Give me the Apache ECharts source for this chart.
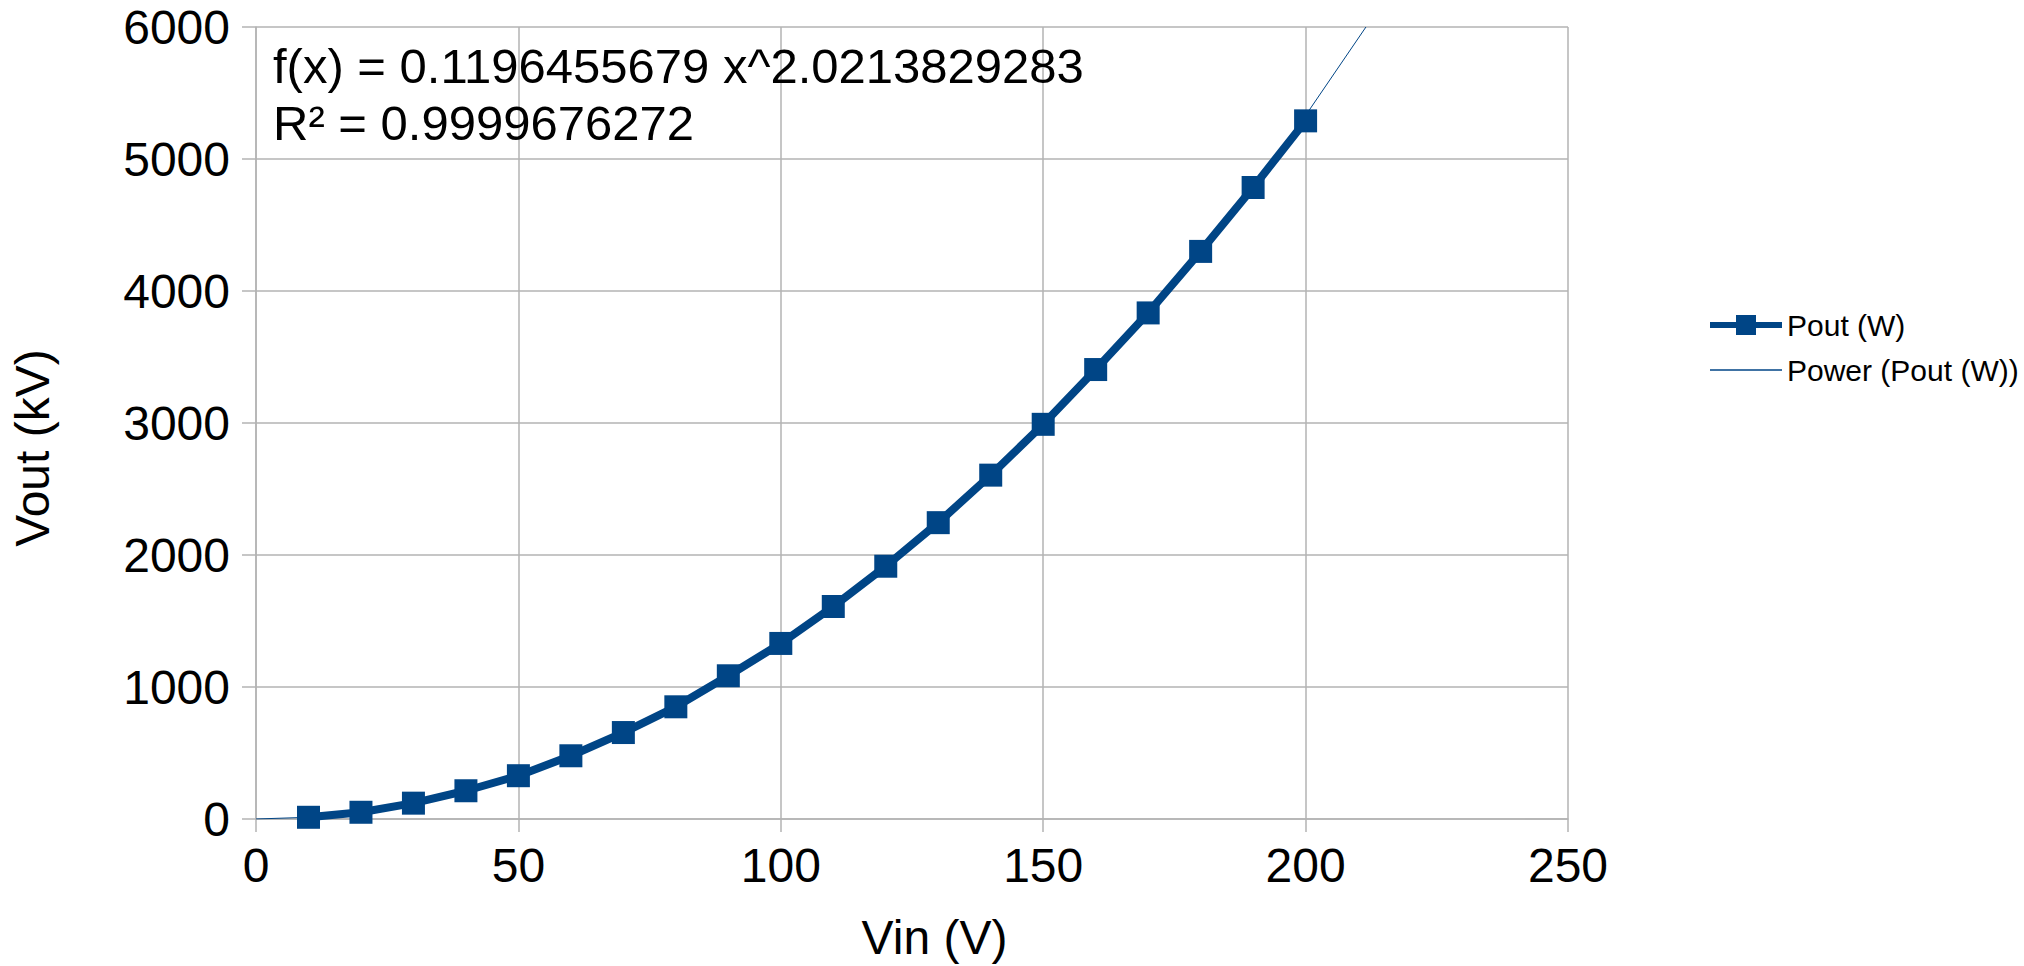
<!DOCTYPE html>
<html>
<head>
<meta charset="utf-8">
<script src="https://cdn.jsdelivr.net/npm/echarts@6/dist/echarts.min.js"></script>
<style>
  html, body { margin: 0; padding: 0; background: #ffffff; }
  #chart { width: 2024px; height: 966px; }
</style>
</head>
<body>
<div id="chart"></div>
<script>
// ---- data ----
const vin = [10, 20, 30, 40, 50, 60, 70, 80, 90, 100, 110, 120, 130, 140, 150, 160, 170, 180, 190, 200];
const pout = [13, 51, 120, 214, 328, 479, 655, 850, 1085, 1330, 1610, 1915, 2245, 2605, 2990, 3405, 3834, 4300, 4784, 5289];

// power trend line as drawn in the reference
const trendVin = [0, 10, 20, 30, 40, 50, 60, 70, 80, 90, 100, 110, 120, 130, 140, 150, 160, 170, 180, 190, 200, 211.5];
const trendPout = [0, 13, 51, 118, 210, 326, 474, 648, 845, 1075, 1325, 1605, 1912, 2245, 2606, 2994, 3410, 3848, 4315, 4800, 5330, 6000];

const xTicks = [0, 50, 100, 150, 200, 250];
const yTicks = [0, 1000, 2000, 3000, 4000, 5000, 6000];

const equationText = 'f(x) = 0.1196455679 x^2.0213829283';
const rSquaredText = 'R² = 0.9999676272';

const seriesNames = ['Pout (W)', 'Power (Pout (W))'];
const axisNames = { x: 'Vin (V)', y: 'Vout (kV)' };

// ---- chart ----
const FONT = '"Liberation Sans", Arial, sans-serif';
const GRID_COLOR = '#b3b3b3';
const BLUE = '#004586';

const chart = echarts.init(document.getElementById('chart'), null, { renderer: 'svg' });

const mainData = vin.map((v, i) => [v, pout[i]]);
const trendData = trendVin.map((v, i) => [v, trendPout[i]]);

chart.setOption({
  backgroundColor: '#ffffff',
  animation: false,
  grid: { left: 251, right: 456, top: 27, bottom: 146, containLabel: false },
  xAxis: {
    type: 'value',
    min: xTicks[0],
    max: xTicks[xTicks.length - 1],
    interval: xTicks[1] - xTicks[0],
    name: axisNames.x,
    nameLocation: 'middle',
    nameGap: 94,
    nameTextStyle: { fontFamily: FONT, fontSize: 48, color: '#000', padding: [0, 0, 0, 45] },
    axisLine: { show: true, onZero: false, lineStyle: { color: GRID_COLOR, width: 1.5 } },
    axisTick: { show: true, inside: false, length: 13, lineStyle: { color: GRID_COLOR, width: 1.5 } },
    axisLabel: { fontFamily: FONT, fontSize: 48, color: '#000', margin: 22, formatter: v => String(v) },
    splitLine: { show: true, lineStyle: { color: GRID_COLOR, width: 1.5 } }
  },
  yAxis: {
    type: 'value',
    min: yTicks[0],
    max: yTicks[yTicks.length - 1],
    interval: yTicks[1] - yTicks[0],
    name: axisNames.y,
    nameLocation: 'middle',
    nameGap: 200,
    nameRotate: 90,
    nameTextStyle: { fontFamily: FONT, fontSize: 48, color: '#000', padding: [0, 50, 0, 0] },
    axisLine: { show: true, onZero: false, lineStyle: { color: GRID_COLOR, width: 1.5 } },
    axisTick: { show: true, inside: false, length: 14, lineStyle: { color: GRID_COLOR, width: 1.5 } },
    axisLabel: { fontFamily: FONT, fontSize: 48, color: '#000', margin: 26, formatter: v => String(v) },
    splitLine: { show: true, lineStyle: { color: GRID_COLOR, width: 1.5 } }
  },
  legend: {
    orient: 'vertical',
    left: 1702,
    top: 305,
    itemWidth: 72,
    itemHeight: 25,
    itemGap: 15,
    textStyle: { fontFamily: FONT, fontSize: 30, color: '#000', lineHeight: 30 },
    data: [
      { name: seriesNames[0], lineStyle: { width: 6 } },
      { name: seriesNames[1], icon: 'path://M0,0L72,0L72,1.5L0,1.5Z', itemStyle: { color: BLUE } }
    ]
  },
  series: [
    {
      name: seriesNames[1],
      type: 'line',
      data: trendData,
      symbol: 'none',
      smooth: false,
      lineStyle: { color: BLUE, width: 1 },
      itemStyle: { color: BLUE },
      z: 1
    },
    {
      name: seriesNames[0],
      type: 'line',
      data: mainData,
      symbol: 'rect',
      symbolSize: 23,
      lineStyle: { color: BLUE, width: 8 },
      itemStyle: { color: BLUE },
      z: 2
    }
  ],
  graphic: [
    {
      type: 'text',
      left: 273,
      top: 37,
      style: {
        text: equationText + '\n' + rSquaredText,
        fontFamily: FONT,
        fontSize: 49,
        lineHeight: 57,
        fill: '#000'
      },
      z: 10
    }
  ]
});
</script>
</body>
</html>
